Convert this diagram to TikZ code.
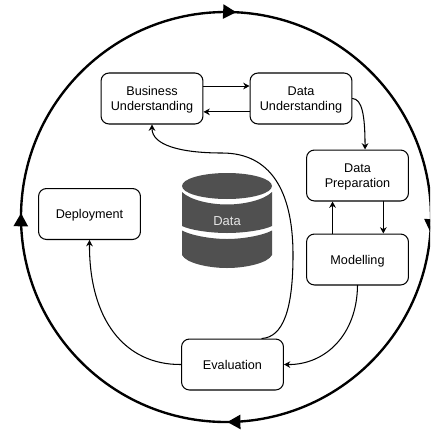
\documentclass[tikz,border=0pt]{standalone}
\usepackage{fontspec}
\setmainfont{Liberation Sans}
\usetikzlibrary{arrows.meta}
\usetikzlibrary{decorations.markings}
\definecolor{dbgray}{HTML}{505050}
\tikzset{
  stagebox/.style={draw,rounded corners=4.5pt,line width=0.6pt,minimum width=58pt,minimum height=29pt,inner sep=0pt,align=center,text depth=0pt,font=\fontsize{7.2}{8.6}\selectfont},
  flow/.style={line width=0.6pt,->},
  ring/.style={line width=1.35pt,postaction={decorate},decoration={markings,
    mark=at position 0.012 with {\arrow{bigtip}},
    mark=at position 0.249 with {\arrow{bigtip}},
    mark=at position 0.503 with {\arrow{bigtip}},
    mark=at position 0.758 with {\arrow{bigtip}}}},
  bigtip/.tip={Triangle[length=7.5pt,width=8pt]}
}
\begin{document}
\begin{tikzpicture}[line cap=round,line join=round,>={Stealth[length=3.6pt,width=3.8pt]},x=0.02cm,y=-0.02cm]
\path[use as bounding box,clip] (0,0) rectangle (430,433);
% outer cycle
\draw [ring] (431,217) arc (0:360:205);
% stages
\node[stagebox] (business) at (152,98.5) {Business\\Understanding};
\node[stagebox] (understanding) at (301,98.5) {Data\\Understanding};
\node[stagebox] (preparation) at (357.5,175.5) {Data\\Preparation};
\node[stagebox] (modelling) at (357.5,259.5) {Modelling};
\node[stagebox] (evaluation) at (232.5,364.5) {Evaluation};
\node[stagebox] (deployment) at (89.5,214) {Deployment};
% database
\fill [dbgray] (182,186) arc (180:360:45 and 13) arc (0:180:45 and 13)--cycle;
\fill [dbgray] (182,192) .. controls (190,200) and (210,204.5) .. (227,204.5) .. controls (244,204.5) and (264,200) .. (272,192)--(272,226) .. controls (264,230) and (244,233) .. (227,233) .. controls (210,233) and (190,230) .. (182,226)--cycle;
\fill [dbgray] (182,230.5) .. controls (190,235) and (210,239) .. (227,239) .. controls (244,239) and (264,235) .. (272,230.5)--(272,255) .. controls (268,263) and (246,268) .. (227,268) .. controls (208,268) and (186,263) .. (182,255)--cycle;
\node[text=white!90!black,font=\fontsize{7.4}{8.6}\selectfont] (data) at (227,221) {Data};
% connectors
\draw [flow] ([yshift=7.1pt]business.east)--([yshift=7.1pt]understanding.west);
\draw [flow] ([yshift=-7.6pt]understanding.west)--([yshift=-7.6pt]business.east);
\draw [flow] (understanding.east) .. controls (362,99) and (365,115) .. ([xshift=4.3pt]preparation.north);
\draw [flow] ([xshift=14.7pt]preparation.south)--([xshift=14.7pt]modelling.north);
\draw [flow] ([xshift=-14.2pt]modelling.north)--([xshift=-14.2pt]preparation.south);
\draw [flow] (modelling.south) .. controls (357,335) and (325,365) .. (evaluation.east);
\draw [flow] (evaluation.west) .. controls (125,365) and (89,320) .. (deployment.south);
\draw [flow] ([xshift=16.7pt]evaluation.north) .. controls (283,337) and (293,310) .. (293,255) .. controls (293,190) and (270,153) .. (222,153) .. controls (180,153) and (152,145) .. (business.south);
\end{tikzpicture}
\end{document}
